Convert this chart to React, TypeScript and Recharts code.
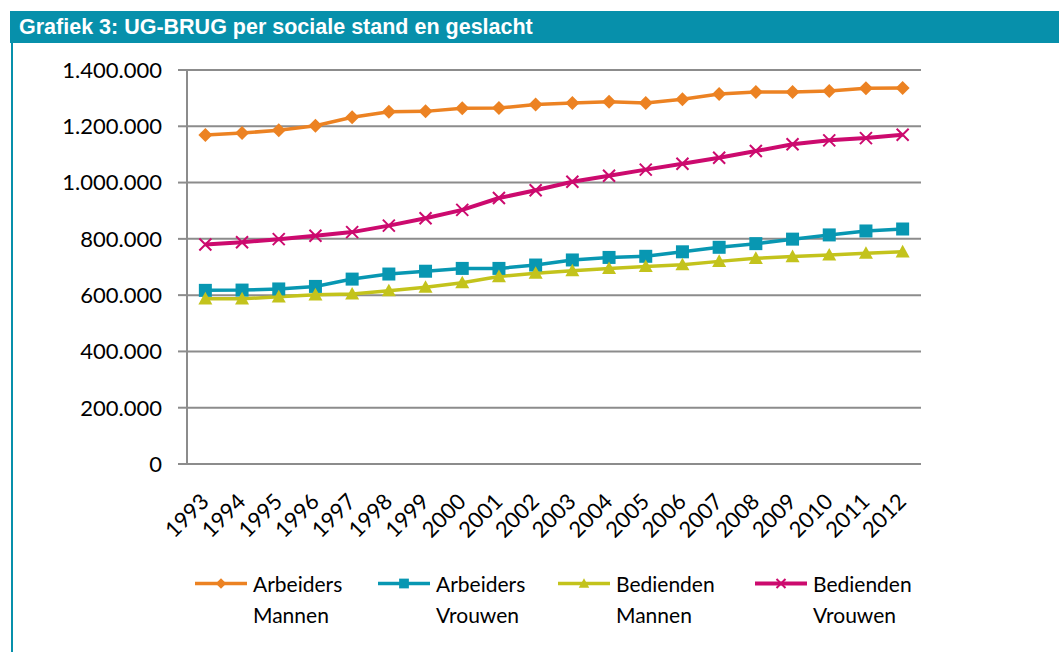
import { LineChart, Line, XAxis, YAxis, CartesianGrid } from "recharts";

// ─── Data ─────────────────────────────────────────────────────────────────────

const YEARS = [
  "1993", "1994", "1995", "1996", "1997", "1998", "1999", "2000", "2001", "2002",
  "2003", "2004", "2005", "2006", "2007", "2008", "2009", "2010", "2011", "2012",
];

const ARBEIDERS_MANNEN = [
  1169000, 1176000, 1186000, 1202000, 1232000, 1252000, 1253000, 1264000, 1265000, 1277000,
  1283000, 1287000, 1283000, 1296000, 1315000, 1322000, 1322000, 1325000, 1335000, 1336000,
];

const ARBEIDERS_VROUWEN = [
  617000, 618000, 622000, 631000, 657000, 675000, 685000, 695000, 695000, 707000,
  725000, 734000, 738000, 754000, 770000, 783000, 799000, 814000, 828000, 835000,
];

const BEDIENDEN_MANNEN = [
  587000, 587000, 594000, 601000, 604000, 616000, 628000, 644000, 666000, 678000,
  687000, 695000, 702000, 708000, 720000, 731000, 737000, 743000, 749000, 754000,
];

const BEDIENDEN_VROUWEN = [
  780000, 788000, 799000, 811000, 824000, 847000, 873000, 903000, 945000, 973000,
  1003000, 1024000, 1046000, 1067000, 1088000, 1112000, 1136000, 1150000, 1158000, 1170000,
];

const Y_TICKS = [0, 200000, 400000, 600000, 800000, 1000000, 1200000, 1400000];

// ─── Config ───────────────────────────────────────────────────────────────────

const TEAL = "#0790ab";
const GRID = "#8c8c8c";
const FONT = "Lato, 'Open Sans', sans-serif";

type Marker = "diamond" | "square" | "triangle" | "cross";

const SERIES: { key: string; l1: string; l2: string; color: string; marker: Marker; width: number }[] = [
  { key: "am", l1: "Arbeiders", l2: "Mannen", color: "#ec8222", marker: "diamond", width: 3.5 },
  { key: "av", l1: "Arbeiders", l2: "Vrouwen", color: "#0897b2", marker: "square", width: 3.5 },
  { key: "bm", l1: "Bedienden", l2: "Mannen", color: "#c3c31c", marker: "triangle", width: 3.5 },
  { key: "bv", l1: "Bedienden", l2: "Vrouwen", color: "#cc0a6e", marker: "cross", width: 4 },
];

const data = YEARS.map((year, i) => ({
  pos: i + 0.5,
  year,
  am: ARBEIDERS_MANNEN[i],
  av: ARBEIDERS_VROUWEN[i],
  bm: BEDIENDEN_MANNEN[i],
  bv: BEDIENDEN_VROUWEN[i],
}));

const BOUNDS = [...YEARS.map((_, i) => i), YEARS.length];
const CENTERS = YEARS.map((_, i) => i + 0.5);

const fmt = (v: number) => String(v).replace(/\B(?=(\d{3})+(?!\d))/g, ".");

// ─── Markers ──────────────────────────────────────────────────────────────────

function MarkerShape({ cx, cy, type, color, s = 1 }: { cx: number; cy: number; type: Marker; color: string; s?: number }) {
  if (type === "diamond") {
    const r = 7 * s;
    return <path d={`M${cx},${cy - r}L${cx + r},${cy}L${cx},${cy + r}L${cx - r},${cy}Z`} fill={color} />;
  }
  if (type === "square") {
    const r = 6.5 * s;
    return <rect x={cx - r} y={cy - r} width={2 * r} height={2 * r} fill={color} />;
  }
  if (type === "triangle") {
    const r = 7 * s;
    return <path d={`M${cx},${cy - r}L${cx + r},${cy + r * 0.8}L${cx - r},${cy + r * 0.8}Z`} fill={color} />;
  }
  const r = 6 * s;
  return (
    <path
      d={`M${cx - r},${cy - r}L${cx + r},${cy + r}M${cx + r},${cy - r}L${cx - r},${cy + r}`}
      stroke={color}
      strokeWidth={2}
      fill="none"
    />
  );
}

const dotFor = (type: Marker, color: string) => (p: any) => (
  <g key={`${type}-${p.index}`}>
    <MarkerShape cx={p.cx} cy={p.cy} type={type} color={color} />
  </g>
);

// ─── Ticks ────────────────────────────────────────────────────────────────────

function YearTick({ x, y, payload }: any) {
  const label = YEARS[Math.floor(payload.value)];
  return (
    <text
      x={x + 5}
      y={y + 31}
      textAnchor="end"
      transform={`rotate(-45, ${x + 5}, ${y + 31})`}
      style={{ fontFamily: FONT, fontSize: 22, fill: "#000" }}
    >
      {label}
    </text>
  );
}

// ─── Legend ───────────────────────────────────────────────────────────────────

const LEGEND_WIDTHS = [183, 180, 197, 140];

function ChartLegend() {
  return (
    <div
      style={{
        position: "absolute",
        left: 195,
        top: 568,
        display: "flex",
        fontFamily: FONT,
        fontSize: 21,
        color: "#000",
        lineHeight: "31px",
      }}
    >
      {SERIES.map((s, i) => (
        <div key={s.key} style={{ display: "flex", width: LEGEND_WIDTHS[i] }}>
          <svg width={54} height={31} style={{ flexShrink: 0 }}>
            <line x1={0} y1={15.5} x2={52} y2={15.5} stroke={s.color} strokeWidth={s.width} />
            <MarkerShape cx={26} cy={15.5} type={s.marker} color={s.color} s={0.75} />
          </svg>
          <div style={{ marginLeft: 4 }}>
            <div>{s.l1}</div>
            <div>{s.l2}</div>
          </div>
        </div>
      ))}
    </div>
  );
}

// ─── Component ────────────────────────────────────────────────────────────────

export default function App() {
  return (
    <div style={{ position: "absolute", left: 0, top: 0, width: 1059, height: 652, background: "#fff", overflow: "hidden" }}>
      {/* Header */}
      <div
        style={{
          position: "absolute",
          left: 10,
          top: 11,
          width: 1049,
          height: 32,
          background: TEAL,
          color: "#fff",
          fontFamily: "'Liberation Sans', Arial, sans-serif",
          fontWeight: 700,
          fontSize: 21.5,
          lineHeight: "32px",
          paddingLeft: 9,
          boxSizing: "border-box",
        }}
      >
        Grafiek 3: UG-BRUG per sociale stand en geslacht
      </div>
      <div style={{ position: "absolute", left: 11, top: 43, width: 2, height: 609, background: TEAL }} />

      {/* Chart */}
      <div style={{ position: "absolute", left: 0, top: 0 }}>
        <LineChart width={1059} height={652} data={data} margin={{ top: 70, right: 138, bottom: 128, left: 67 }}>
          <CartesianGrid xAxisId="bounds" vertical={false} stroke={GRID} strokeWidth={2} />
          <XAxis
            xAxisId="bounds"
            type="number"
            dataKey="pos"
            domain={[0, YEARS.length]}
            ticks={BOUNDS}
            interval={0}
            tick={false}
            tickSize={8}
            height={0}
            stroke={GRID}
            strokeWidth={2}
          />
          <XAxis
            xAxisId="years"
            type="number"
            dataKey="pos"
            domain={[0, YEARS.length]}
            ticks={CENTERS}
            interval={0}
            axisLine={false}
            tickLine={false}
            tick={<YearTick />}
            height={60}
          />
          <YAxis
            domain={[0, 1400000]}
            ticks={Y_TICKS}
            interval={0}
            width={120}
            tickSize={9}
            tickMargin={16}
            tickFormatter={fmt}
            stroke={GRID}
            strokeWidth={2}
            tick={{ fontFamily: FONT, fontSize: 22, fill: "#000" }}
          />
          {SERIES.map((s) => (
            <Line
              key={s.key}
              xAxisId="bounds"
              dataKey={s.key}
              stroke={s.color}
              strokeWidth={s.width}
              dot={dotFor(s.marker, s.color)}
              activeDot={false}
              isAnimationActive={false}
            />
          ))}
        </LineChart>
      </div>

      <ChartLegend />
    </div>
  );
}
